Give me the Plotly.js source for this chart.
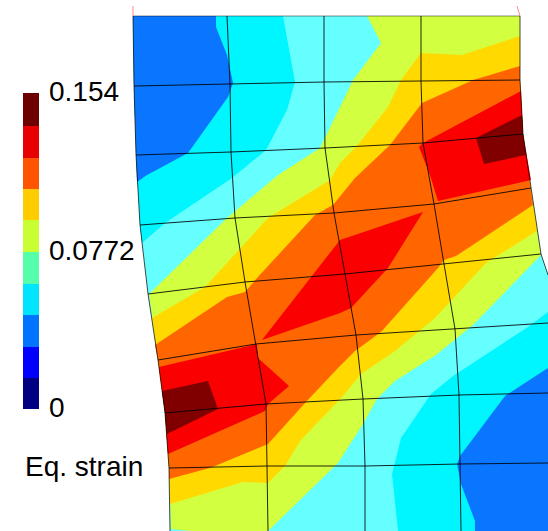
<!DOCTYPE html>
<html>
<head>
<meta charset="utf-8">
<script src="https://cdn.plot.ly/plotly-3.0.1.min.js"></script>
<style>html,body{margin:0;padding:0;background:#fff}#plot{width:548px;height:531px}</style>
</head>
<body>
<div id="plot"></div>
<script>
// Colour legend
const legendEdges = [409,378,347,315,284,252,220,189,158,126,93];
const legendColors = ['#000080','#0000ff','#0073ff','#00e5ff','#55ffaa','#c8ff33','#ffcc00','#ff5500','#e60000','#6d0000'];
const legendLabels = ['0.154','0.0772','0'];
const legendLabelY = [91.5,250.5,407];
const legendTitle = 'Eq. strain';

// Band colours in the contour
const cLight='#66ffff', cCyan='#00f6ff', cBlue='#0a75ff', cGreen='#d2ff40', cYellow='#ffd900', cOrange='#ff6600', cRed='#fa0000', cDark='#800000';

// Contour regions
const domainX=[133,134,136,140,148,158,165,169,170,548,548,541,531,523,520,520];
const domainY=[16,86,155,225,294,360,413,468,531,531,275,254,188,134,80,16];

const cyanTopX=[133,283,295,287,266,232,165,142,140,136,134];
const cyanTopY=[16,16,82,110,150,178,223,243,225,155,86];
const blueTopX=[133,216,216,227,233,228,188,147,137,136,134];
const blueTopY=[16,16,27,55,83,97,153,175,182,155,86];

const cyanLowX=[398,392,401,431,453,491,528,548,548];
const cyanLowY=[531,474,438,394,376,351,327,312,531];
const blueLowX=[548,510,505,460,457,461,475,475,548];
const blueLowY=[368,393,396,456,464,484,521,531,531];

const greenX=[149,227,278,320,340,353,381,367,520,520,523,531,541,473,436,395,377,363,338,268,190,171,170,169,165,158];
const greenY=[294,218,175,148,107,80,43,16,16,80,134,188,255,325,355,381,399,424,463,531,531,529,504,468,413,360];

const yellowX=[152,205,268,330,340,356,388,401,421,462,520,520,523,531,537,486,435,395,361,343,300,285,268,243,170,169,165,158];
const yellowY=[318,287,218,180,163,147,107,80,53,55,36,80,134,188,231,263,318,351,374,396,441,466,483,482,504,468,413,360];

const orangeX=[155,227,245,257,315,333,355,390,422,473,520,520,523,531,533,456,444,438,381,355,338,305,268,210,169,169,165,158];
const orangeY=[345,297,292,278,215,205,178,145,103,80,66,80,134,188,205,256,260,268,332,351,368,403,444,468,479,468,413,360];

const redTRX=[521,423,419,430,438,531,523];
const redTRY=[91,143,147,175,201,180,134];
const darkTRX=[522,476,484,526,523];
const darkTRY=[115,138,164,155,134];

const redMidX=[262,340,423,388,351,340];
const redMidY=[340,240,212,268,308,313];

const redBLX=[159,248,257,258,289,268,265,168,165];
const redBLY=[367,346,344,358,386,404,411,454,413];
const darkBLX=[162,208,218,167,165];
const darkBLY=[391,381,409,434,413];

// Mesh lines
const row0X=[133,227,324,421,520], row0Y=[16,16,16,16,16];
const row1X=[134,230,324,421,520], row1Y=[86,84,82,81,80];
const row2X=[136,231,325,423,523], row2Y=[155,152,148,143,134];
const row3X=[140,235,334,434,531], row3Y=[225,218,213,204,188];
const row4X=[148,245,345,444,541], row4Y=[294,282,274,264,254];
const row5X=[158,256,356,455,548], row5Y=[360,344,335,329,323];
const row6X=[165,266,363,459,548], row6Y=[413,404,399,395,393];
const row7X=[169,267,365,460,548], row7Y=[468,466,466,464,463];
const col0X=[133,134,136,140,148,158,165,169,170], col0Y=[16,86,155,225,294,360,413,468,531];
const col1X=[227,230,231,235,245,256,266,267,268], col1Y=[16,84,152,218,282,344,404,466,531];
const col2X=[324,324,325,334,345,356,363,365,365], col2Y=[16,82,148,213,274,335,399,466,531];
const col3X=[421,421,423,434,444,455,459,460,461], col3Y=[16,81,143,204,264,329,395,464,531];
const col4X=[520,520,523,531,541,548], col4Y=[16,80,134,188,254,275];

// Corner markers
const tickLX=[133,133], tickLY=[6,16];
const tickRX=[517,520], tickRY=[6,16];

function fillPoly(x,y,c){
  return {type:'scatter',mode:'lines',x:x.concat(x[0]),y:y.concat(y[0]),fill:'toself',fillcolor:c,
          line:{width:0,color:c},hoverinfo:'skip'};
}
function line(x,y,c,w){
  return {type:'scatter',mode:'lines',x:x,y:y,line:{color:c,width:w},hoverinfo:'skip'};
}
const meshColor='rgba(0,0,0,0.85)';
const traces=[
  fillPoly(domainX,domainY,cLight),
  fillPoly(cyanTopX,cyanTopY,cCyan),
  fillPoly(blueTopX,blueTopY,cBlue),
  fillPoly(cyanLowX,cyanLowY,cCyan),
  fillPoly(blueLowX,blueLowY,cBlue),
  fillPoly(greenX,greenY,cGreen),
  fillPoly(yellowX,yellowY,cYellow),
  fillPoly(orangeX,orangeY,cOrange),
  fillPoly(redTRX,redTRY,cRed),
  fillPoly(darkTRX,darkTRY,cDark),
  fillPoly(redMidX,redMidY,cRed),
  fillPoly(redBLX,redBLY,cRed),
  fillPoly(darkBLX,darkBLY,cDark),
  line(row0X,row0Y,'rgba(0,0,0,0.45)',1),
  line(row1X,row1Y,meshColor,1),
  line(row2X,row2Y,meshColor,1),
  line(row3X,row3Y,meshColor,1),
  line(row4X,row4Y,meshColor,1),
  line(row5X,row5Y,meshColor,1),
  line(row6X,row6Y,meshColor,1),
  line(row7X,row7Y,meshColor,1),
  line(col0X,col0Y,'rgba(0,0,0,0.7)',1),
  line(col1X,col1Y,meshColor,1),
  line(col2X,col2Y,meshColor,1),
  line(col3X,col3Y,meshColor,1),
  line(col4X,col4Y,'rgba(0,0,0,0.7)',1),
  line(tickLX,tickLY,'rgba(255,60,60,0.6)',1),
  line(tickRX,tickRY,'rgba(255,60,60,0.6)',1),
  {type:'bar',orientation:'v',x:legendColors.map(()=>31),width:16,
   base:legendColors.map((_,i)=>legendEdges[i]),
   y:legendColors.map((_,i)=>legendEdges[i+1]-legendEdges[i]),
   marker:{color:legendColors,line:{width:0}},hoverinfo:'skip'}
];

const annotations=legendLabels.map((t,i)=>({
  text:t,x:49,y:legendLabelY[i],xref:'x',yref:'y',xanchor:'left',yanchor:'middle',showarrow:false,
  xshift:-2,font:{family:'Liberation Sans, Arial, sans-serif',size:28,color:'#000'}
}));
annotations.push({text:legendTitle,x:25,y:466,xref:'x',yref:'y',xanchor:'left',yanchor:'middle',showarrow:false,
  xshift:-2,font:{family:'Liberation Sans, Arial, sans-serif',size:28,color:'#000'}});

const layout={
  width:548,height:531,margin:{l:0,r:0,t:0,b:0},paper_bgcolor:'#fff',plot_bgcolor:'#fff',
  showlegend:false,barmode:'overlay',hovermode:false,
  xaxis:{range:[0,548],visible:false,fixedrange:true},
  yaxis:{range:[531,0],visible:false,fixedrange:true},
  annotations:annotations
};
Plotly.newPlot('plot',traces,layout,{displayModeBar:false,staticPlot:true});
</script>
</body>
</html>
